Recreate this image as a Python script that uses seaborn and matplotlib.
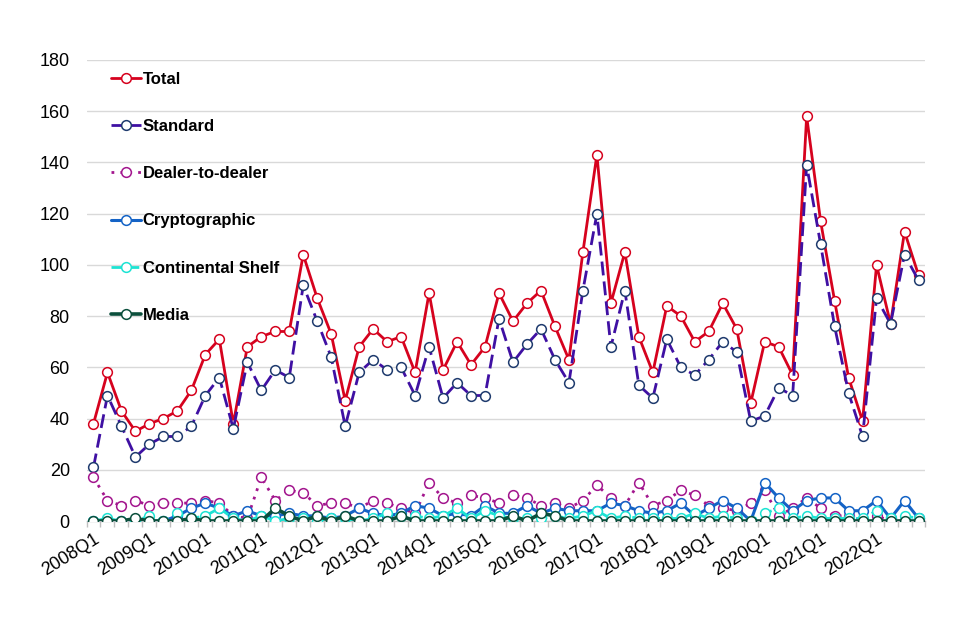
import matplotlib
matplotlib.use("Agg")
import matplotlib.pyplot as plt
import seaborn as sns
import pandas as pd
import numpy as np

quarters = [f"{y}Q{q}" for y in range(2008, 2023) for q in range(1, 5)]

total = [38, 58, 43, 35, 38, 40, 43, 51, 65, 71, 38, 68, 72, 74, 74, 104, 87, 73, 47, 68,
         75, 70, 72, 58, 89, 59, 70, 61, 68, 89, 78, 85, 90, 76, 63, 105, 143, 85, 105, 72,
         58, 84, 80, 70, 74, 85, 75, 46, 70, 68, 57, 158, 117, 86, 56, 39, 100, 77, 113, 96]
standard = [21, 49, 37, 25, 30, 33, 33, 37, 49, 56, 36, 62, 51, 59, 56, 92, 78, 64, 37, 58,
            63, 59, 60, 49, 68, 48, 54, 49, 49, 79, 62, 69, 75, 63, 54, 90, 120, 68, 90, 53,
            48, 71, 60, 57, 63, 70, 66, 39, 41, 52, 49, 139, 108, 76, 50, 33, 87, 77, 104, 94]
dealer = [17, 8, 6, 8, 6, 7, 7, 7, 8, 7, 2, 1, 17, 8, 12, 11, 6, 7, 7, 5,
          8, 7, 5, 3, 15, 9, 7, 10, 9, 7, 10, 9, 6, 7, 5, 8, 14, 9, 6, 15,
          6, 8, 12, 10, 6, 5, 4, 7, 12, 2, 5, 9, 5, 2, 2, 0, 2, 0, 0, 0]
crypto = [0, 0, 0, 0, 0, 0, 2, 5, 7, 5, 2, 4, 2, 2, 3, 2, 2, 1, 2, 5,
          3, 2, 3, 6, 5, 2, 3, 2, 6, 3, 3, 6, 3, 5, 4, 4, 4, 7, 6, 4,
          3, 4, 7, 2, 5, 8, 5, 0, 15, 9, 4, 8, 9, 9, 4, 4, 8, 1, 8, 1]
shelf = [0, 1, 0, 0, 2, 0, 3, 1, 2, 5, 1, 0, 2, 0, 1, 1, 0, 1, 1, 0,
         1, 3, 2, 2, 1, 2, 5, 1, 4, 2, 1, 1, 1, 2, 1, 2, 4, 1, 2, 1,
         1, 1, 1, 3, 1, 2, 1, 0, 3, 5, 1, 2, 1, 1, 1, 1, 4, 1, 2, 1]
media = [0, 0, 0, 1, 0, 0, 0, 1, 0, 0, 0, 0, 0, 5, 2, 0, 2, 0, 2, 0,
         0, 0, 2, 0, 0, 0, 0, 0, 0, 0, 2, 0, 3, 2, 0, 0, 0, 0, 0, 0,
         0, 0, 0, 0, 0, 0, 0, 0, 0, 0, 0, 0, 0, 0, 0, 0, 0, 0, 0, 0]

series_names = ["Total", "Standard", "Dealer-to-dealer", "Cryptographic", "Continental Shelf", "Media"]
series_values = [total, standard, dealer, crypto, shelf, media]
line_colors = ["#d6021e", "#3f10a3", "#a3168e", "#1463c6", "#1de3d3", "#0b4f3c"]
edge_colors = ["#d6021e", "#1f3b6e", "#a3168e", "#1463c6", "#1de3d3", "#0b4f3c"]
styles = ["-", (0, (5, 2.2)), (0, (1, 2.2)), "-", (0, (4, 2)), "-"]
widths = [2.0, 2.0, 2.0, 2.2, 2.0, 2.6]

rows = []
for name, vals in zip(series_names, series_values):
    for i, v in enumerate(vals):
        rows.append({"idx": i, "quarter": quarters[i], "series": name, "value": v})
df = pd.DataFrame(rows)

sns.set_theme(style="white")
plt.rcParams["font.family"] = ["Liberation Sans", "DejaVu Sans"]

fig = plt.figure(figsize=(9.6, 6.4), dpi=100)
ax = fig.add_axes([86.5 / 960, 1 - 521 / 640, 839 / 960, 461 / 640])

for k, name in enumerate(series_names):
    sub = df[df["series"] == name]
    sns.lineplot(data=sub, x="idx", y="value", ax=ax, color=line_colors[k],
                 linestyle=styles[k], linewidth=widths[k], marker="o", markersize=7,
                 markerfacecolor="white", markeredgecolor=edge_colors[k],
                 markeredgewidth=1.1, label=name, zorder=3 + k)

ax.set_xlim(-0.5, len(quarters) - 0.5)
ax.set_ylim(0, 180)
ax.set_yticks(range(0, 181, 20))
ax.yaxis.grid(True, color="#d9d9d9", linewidth=1)
ax.xaxis.grid(False)
ax.set_axisbelow(True)
for s in ["left", "right", "top"]:
    ax.spines[s].set_visible(False)
ax.spines["bottom"].set_color("#bfbfbf")
ax.spines["bottom"].set_linewidth(1)

major = list(range(0, len(quarters), 4))
ax.set_xticks(major)
ax.set_xticklabels([quarters[i] for i in major], rotation=32, ha="right",
                   rotation_mode="anchor", fontsize=13, color="black")
ax.set_xticks(np.arange(-0.5, len(quarters), 1), minor=True)
ax.tick_params(axis="x", which="major", length=0, pad=7)
ax.tick_params(axis="x", which="minor", length=4, color="#bfbfbf", width=1, bottom=True)
ax.tick_params(axis="y", length=0, labelsize=13, labelcolor="black", pad=12)
ax.set_xlabel("")
ax.set_ylabel("")

leg = ax.legend(loc="upper left", bbox_to_anchor=(0.029, 0.974), frameon=False,
                handlelength=1.8, handletextpad=0.12, labelspacing=1.93,
                borderaxespad=0, borderpad=0, numpoints=1,
                prop={"weight": "bold", "size": 12})
for t in leg.get_texts():
    t.set_color("black")

fig.savefig("out.png", dpi=100, facecolor="white")
